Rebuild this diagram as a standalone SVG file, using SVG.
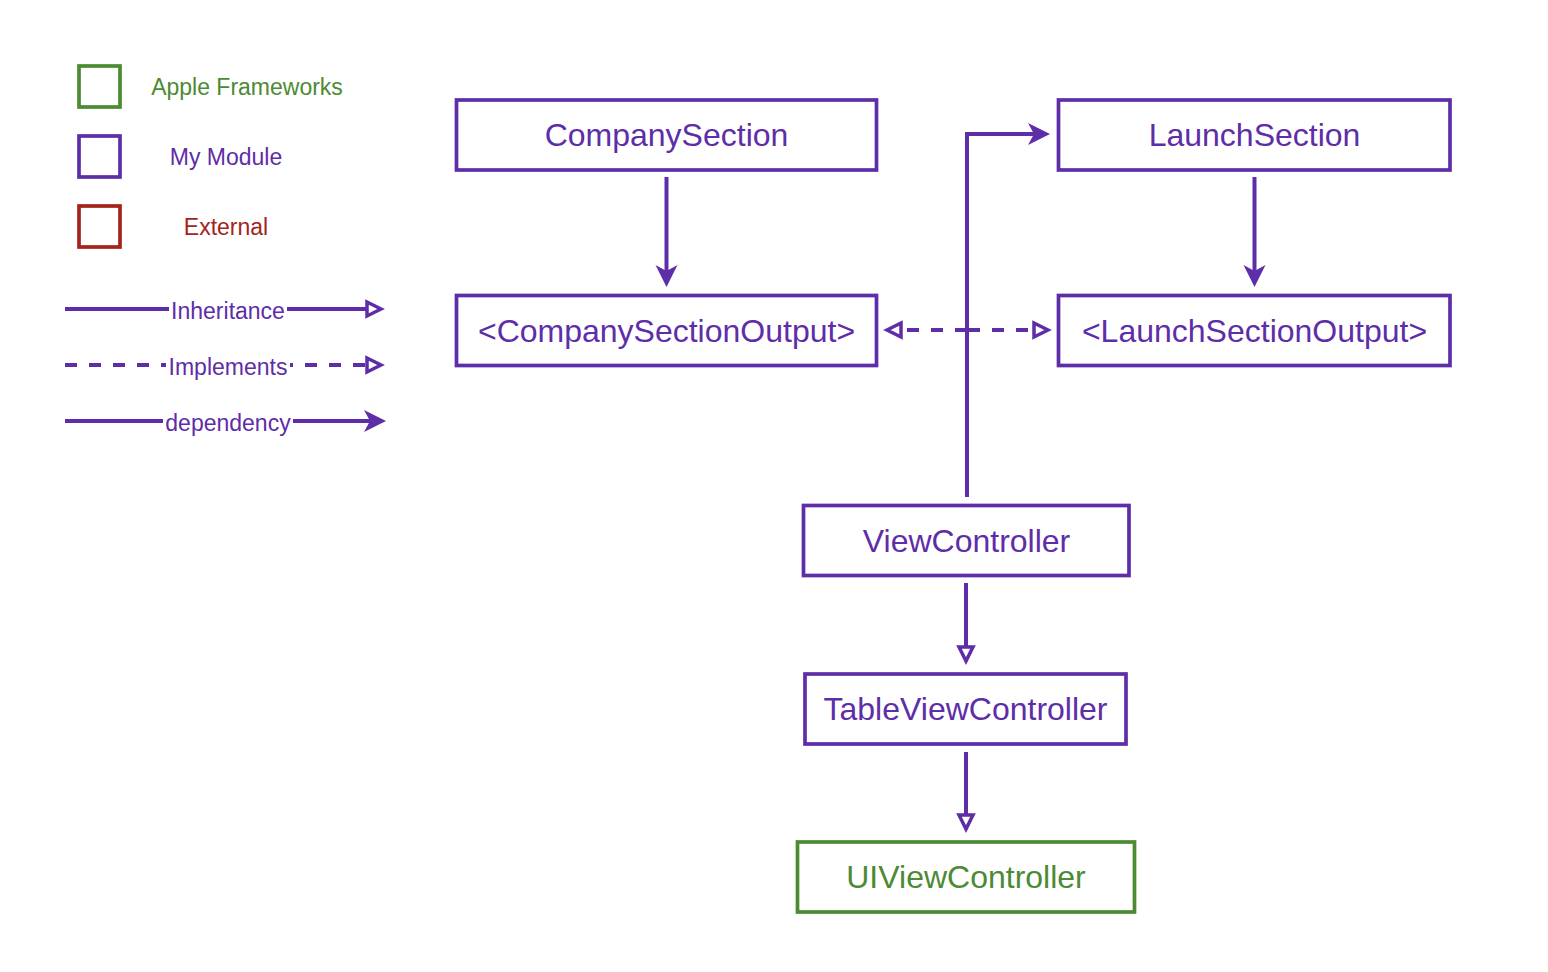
<svg xmlns="http://www.w3.org/2000/svg" width="1548" height="972" viewBox="0 0 1548 972">
<style>
  .node { fill: #ffffff; stroke-width: 3.7; }
  .mod { stroke: #5E2DA8; }
  .apple { stroke: #4C8A34; }
  .ext { stroke: #A3241B; }
  .t { font-family: "Liberation Sans", Arial, Helvetica, sans-serif; text-anchor: middle; }
  .nt { font-size: 32px; }
  .lt { font-size: 23px; }
  .pt { fill: #5E2DA8; }
  .gt { fill: #4C8A34; }
  .rt { fill: #A3241B; }
  .edge { fill: none; stroke: #5E2DA8; stroke-width: 4; }
  .dash { stroke-dasharray: 12 12; }
</style>
<defs>
  <marker id="filled" markerUnits="userSpaceOnUse" markerWidth="24" markerHeight="24" viewBox="0 0 24 24" refX="6" refY="11" orient="auto" overflow="visible">
    <path d="M0,0 L22,11 L0,22 L6,11 Z" fill="#5E2DA8" stroke="none"/>
  </marker>
  <marker id="open" markerUnits="userSpaceOnUse" markerWidth="24" markerHeight="24" viewBox="0 0 24 24" refX="2" refY="9" orient="auto" overflow="visible">
    <path d="M2,2 L16,9 L2,16 Z" fill="#ffffff" stroke="#5E2DA8" stroke-width="3.5" stroke-dasharray="none"/>
  </marker>
</defs>

<rect width="1548" height="972" fill="#ffffff"/>

<g id="legend">
  <rect x="79" y="66" width="41" height="41" class="node apple"/>
  <text x="247" y="95" class="t lt gt">Apple Frameworks</text>
  <rect x="79" y="136" width="41" height="41" class="node mod"/>
  <text x="226" y="165" class="t lt pt">My Module</text>
  <rect x="79" y="206" width="41" height="41" class="node ext"/>
  <text x="226" y="235" class="t lt rt">External</text>

  <path d="M65,309 L367,309" class="edge" marker-end="url(#open)"/>
  <rect x="169" y="296" width="118" height="28" fill="#ffffff"/>
  <text x="228" y="319" class="t lt pt">Inheritance</text>

  <path d="M65,365 L367,365" class="edge dash" marker-end="url(#open)"/>
  <rect x="166" y="352" width="124" height="28" fill="#ffffff"/>
  <text x="228" y="375" class="t lt pt">Implements</text>

  <path d="M65,421 L370,421" class="edge" marker-end="url(#filled)"/>
  <rect x="163" y="408" width="130" height="30" fill="#ffffff"/>
  <text x="228" y="431" class="t lt pt">dependency</text>
</g>

<g id="connectors">
  <path d="M666.5,177 L666.5,271" class="edge" marker-end="url(#filled)"/>
  <path d="M1254.5,177 L1254.5,271" class="edge" marker-end="url(#filled)"/>
  <path d="M967,497 L967,134 L1034,134" class="edge" marker-end="url(#filled)"/>
  <path d="M967,497 L967,330 L1034,330" class="edge dash" marker-end="url(#open)"/>
  <path d="M967,330 L901,330" class="edge dash" marker-end="url(#open)"/>
  <path d="M966,583 L966,647" class="edge" marker-end="url(#open)"/>
  <path d="M966,752 L966,815" class="edge" marker-end="url(#open)"/>
</g>

<g id="node-companysection">
  <rect x="456.5" y="100" width="420" height="70" class="node mod"/>
  <text x="666.5" y="146" class="t nt pt">CompanySection</text>
</g>
<g id="node-companysectionoutput">
  <rect x="456.5" y="295.5" width="420" height="70" class="node mod"/>
  <text x="666.5" y="341.5" class="t nt pt">&lt;CompanySectionOutput&gt;</text>
</g>
<g id="node-launchsection">
  <rect x="1058.5" y="100" width="391.5" height="70" class="node mod"/>
  <text x="1254.5" y="146" class="t nt pt">LaunchSection</text>
</g>
<g id="node-launchsectionoutput">
  <rect x="1058.5" y="295.5" width="391.5" height="70" class="node mod"/>
  <text x="1254.5" y="341.5" class="t nt pt">&lt;LaunchSectionOutput&gt;</text>
</g>
<g id="node-viewcontroller">
  <rect x="803.5" y="505.5" width="325.5" height="70" class="node mod"/>
  <text x="966.5" y="551.5" class="t nt pt">ViewController</text>
</g>
<g id="node-tableviewcontroller">
  <rect x="805" y="674" width="321" height="70" class="node mod"/>
  <text x="965.5" y="720" class="t nt pt">TableViewController</text>
</g>
<g id="node-uiviewcontroller">
  <rect x="797.5" y="842" width="337" height="70" class="node apple"/>
  <text x="966" y="888" class="t nt gt">UIViewController</text>
</g>
</svg>
